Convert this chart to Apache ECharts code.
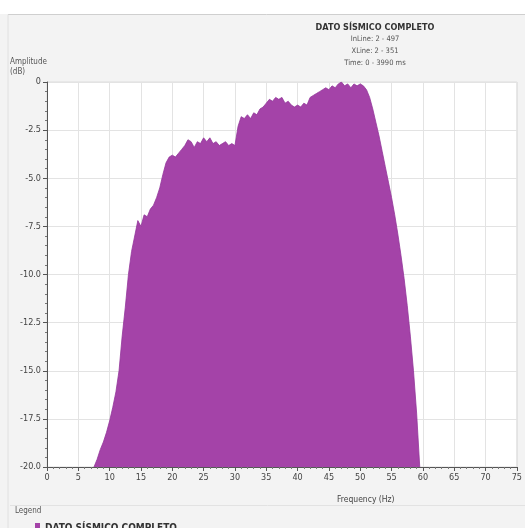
<!DOCTYPE html>
<html>
<head>
<meta charset="utf-8">
<script src="https://cdn.jsdelivr.net/npm/echarts@6/dist/echarts.min.js"></script>
<style>
html,body{margin:0;padding:0;background:#f3f3f3;}
#c{width:525px;height:528px;}
</style>
</head>
<body>
<div id="c"></div>
<script>
// Frequency (Hz)
const frequency = [7.5,8,8.5,9,9.5,10,10.5,11,11.5,12,12.5,13,13.5,14,14.5,15,15.5,16,16.5,17,17.5,18,18.5,19,19.5,20,20.5,21,21.5,22,22.5,23,23.5,24,24.5,25,25.5,26,26.5,27,27.5,28,28.5,29,29.5,30,30.5,31,31.5,32,32.5,33,33.5,34,34.5,35,35.5,36,36.5,37,37.5,38,38.5,39,39.5,40,40.5,41,41.5,42,42.5,43,43.5,44,44.5,45,45.5,46,46.5,47,47.5,48,48.5,49,49.5,50,50.5,51,51.5,52,52.5,53,53.5,54,54.5,55,55.5,56,56.5,57,57.5,58,58.5,59,59.5];
// Amplitude (dB)
const amplitude = [-20.0,-19.6,-19.1,-18.7,-18.2,-17.6,-16.9,-16.1,-15.0,-13.2,-11.7,-10.0,-8.8,-8.0,-7.2,-7.5,-6.9,-7.0,-6.6,-6.4,-6.0,-5.5,-4.8,-4.2,-3.9,-3.8,-3.9,-3.7,-3.5,-3.3,-3.0,-3.1,-3.4,-3.1,-3.2,-2.9,-3.1,-2.9,-3.2,-3.1,-3.3,-3.2,-3.1,-3.3,-3.2,-3.3,-2.3,-1.8,-1.9,-1.7,-1.9,-1.6,-1.7,-1.4,-1.3,-1.1,-0.9,-1.0,-0.8,-0.9,-0.8,-1.1,-1.0,-1.2,-1.3,-1.2,-1.3,-1.1,-1.2,-0.8,-0.7,-0.6,-0.5,-0.4,-0.3,-0.4,-0.2,-0.3,-0.1,0.0,-0.2,-0.1,-0.3,-0.1,-0.2,-0.1,-0.2,-0.4,-0.8,-1.4,-2.1,-2.8,-3.6,-4.4,-5.2,-6.0,-6.9,-7.9,-9.0,-10.2,-11.6,-13.2,-15.0,-17.2,-20.0];
const seriesName = 'DATO SÍSMICO COMPLETO';
const titleLines = ['InLine: 2 - 497', 'XLine: 2 - 351', 'Time: 0 - 3990 ms'];

const font = '"DejaVu Sans Condensed","DejaVu Sans",sans-serif';
const chart = echarts.init(document.getElementById('c'), null, {renderer:'canvas'});
const data = frequency.map((f,i)=>[f, amplitude[i]]);

chart.setOption({
  backgroundColor: '#f3f3f3',
  animation: false,
  title: [{
    text: seriesName,
    left: 370, top: 18, textAlign: 'center',
    textStyle: {fontFamily: font, fontSize: 9, fontWeight: 'bold', color: '#333'},
    subtext: titleLines.join('\n'),
    itemGap: 1,
    subtextStyle: {fontFamily: font, fontSize: 7.5, color: '#555', lineHeight: 12, align: 'center'}
  }],
  graphic: [
    {type:'rect', shape:{x:0,y:0,width:525,height:14}, style:{fill:'#ffffff'}, z:-1},
    {type:'line', shape:{x1:8,y1:14.5,x2:525,y2:14.5}, style:{stroke:'#cfcfcf', lineWidth:1}},
    {type:'line', shape:{x1:8,y1:14.5,x2:8,y2:528}, style:{stroke:'#e0e0e0', lineWidth:1}},
    {type:'line', shape:{x1:10,y1:505.5,x2:525,y2:505.5}, style:{stroke:'#e2e2e2', lineWidth:1}},
    {type:'text', left:10, top:57, style:{text:'Amplitude\n(dB)', font:'8px '+font, fill:'#555', lineHeight:10}},
    {type:'text', left:337, top:495, style:{text:'Frequency (Hz)', font:'8.5px '+font, fill:'#444'}},
    {type:'text', left:15, top:507, style:{text:'Legend', font:'8px '+font, fill:'#555'}}
  ],
  legend: {
    left: 30, top: 518, itemWidth: 5, itemHeight: 10, icon: 'rect',
    textStyle: {fontFamily: font, fontSize: 10, fontWeight: 'bold', color: '#333'},
    data: [seriesName]
  },
  grid: {left: 47, right: 7, top: 82, bottom: 61, show: true, backgroundColor: '#ffffff', borderColor: '#dcdcdc', borderWidth: 1},
  xAxis: {
    type: 'value', min: 0, max: 75, interval: 5,
    axisLine: {show: true, onZero: false, lineStyle: {color: '#555'}},
    axisTick: {show: true, length: 4, lineStyle: {color: '#555'}},
    minorTick: {show: true, splitNumber: 5, length: 2, lineStyle: {color: '#777'}},
    axisLabel: {fontFamily: font, fontSize: 9, color: '#444', margin: 6},
    splitLine: {show: true, lineStyle: {color: '#e3e3e3', width: 1}}
  },
  yAxis: {
    type: 'value', min: -20, max: 0, interval: 2.5,
    axisLine: {show: true, onZero: false, lineStyle: {color: '#555'}},
    axisTick: {show: true, length: 4, lineStyle: {color: '#555'}},
    minorTick: {show: true, splitNumber: 5, length: 2, lineStyle: {color: '#777'}},
    axisLabel: {fontFamily: font, fontSize: 9, color: '#444', margin: 6,
      formatter: v => v === 0 ? '0' : v.toFixed(1)},
    splitLine: {show: true, lineStyle: {color: '#e3e3e3', width: 1}}
  },
  series: [{
    name: seriesName,
    type: 'line',
    data: data,
    showSymbol: false,
    symbol: 'none',
    itemStyle: {color: '#a443a8'},
    lineStyle: {color: '#93369a', width: 0.8},
    areaStyle: {color: '#a443a8', opacity: 1, origin: 'start'}
  }]
});
</script>
</body>
</html>
